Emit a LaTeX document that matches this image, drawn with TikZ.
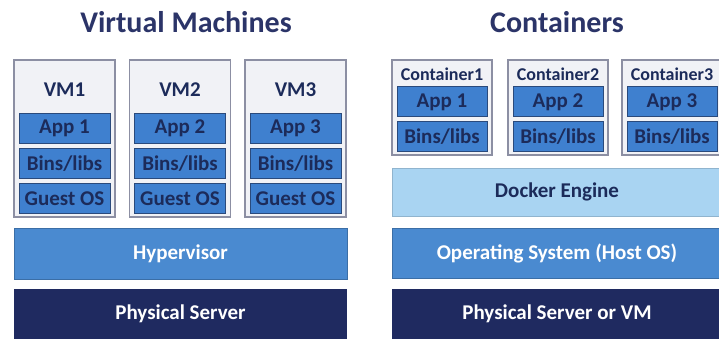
\documentclass[tikz,border=0pt]{standalone}
\usepackage{fontspec}
\setmainfont{Carlito}
\usepackage{tikz}
\definecolor{navytext}{HTML}{1C2B5A}
\definecolor{titlecol}{HTML}{2B3468}
\definecolor{boxgray}{HTML}{F1F2F6}
\definecolor{boxline}{HTML}{8C8FA3}
\definecolor{appblue}{HTML}{3F80CF}
\definecolor{appline}{HTML}{2A4A7C}
\definecolor{hyperblue}{HTML}{4A8AD0}
\definecolor{dockerblue}{HTML}{A9D4F2}
\definecolor{serverblue}{HTML}{1F2A60}
\tikzset{
  guest/.style={draw=boxline, fill=boxgray, line width=1.2pt, inner sep=0pt},
  layer/.style={draw=appline, fill=appblue, line width=1pt, minimum width=#1, minimum height=30pt,
    inner sep=0pt, text=navytext, font=\bfseries\fontsize{21}{23}\selectfont},
  bar/.style={fill=#1, minimum width=333pt, minimum height=50pt, inner sep=0pt,
    font=\bfseries\fontsize{21}{23}\selectfont},
  heading/.style={text=titlecol, font=\bfseries\fontsize{30}{34}\selectfont}
}

\begin{document}
\begin{tikzpicture}[x=1pt,y=-1pt]
  \useasboundingbox[fill=white] (0,0) rectangle (719,339);
  % titles
  \node [heading] (vmtitle) at (186,22) {Virtual Machines};
  \node [heading] (cttitle) at (557,22) {Containers};
  % virtual machines
  \foreach \i/\x in {1/64.5, 2/180, 3/295.5} {
    \node [guest, minimum width=101pt, minimum height=157pt] (vm\i) at (\x,138.5) {};
    \node [text=navytext, font=\bfseries\fontsize{21}{23}\selectfont] (vmname\i) at (\x,90) {VM\i};
    \node [layer=91pt] (vmapp\i) at (\x,128.5) {App \i};
    \node [layer=91pt] (vmbins\i) at (\x,163.5) {Bins/libs};
    \node [layer=91pt] (vmos\i) at (\x,198.5) {Guest OS};
  }
  \node [bar=hyperblue, draw=hyperblue!80!black, line width=0.6pt, text=white, minimum height=51pt] (hyper) at (180.5,253.5) {Hypervisor};
  \node [bar=serverblue, text=white] (server) at (180.5,314) {Physical Server};
  % containers
  \foreach \i/\x in {1/442, 2/558, 3/672} {
    \node [guest, minimum width=100pt, minimum height=95pt] (ct\i) at (\x,107.5) {};
    \node [text=navytext, font=\bfseries\fontsize{18}{20}\selectfont] (ctname\i) at (\x,74) {Container\i};
    \node [layer=90pt] (ctapp\i) at (\x,102) {App \i};
    \node [layer=90pt] (ctbins\i) at (\x,136.5) {Bins/libs};
  }
  \node [bar=dockerblue, draw=dockerblue!85!black, line width=0.6pt, text=navytext, minimum width=330pt, minimum height=48pt] (docker) at (557,192) {Docker Engine};
  \node [bar=hyperblue, draw=hyperblue!80!black, line width=0.6pt, text=white, minimum width=330pt] (hostos) at (557,253) {Operating System (Host OS)};
  \node [bar=serverblue, text=white, minimum width=330pt] (server2) at (557,314) {Physical Server or VM};
\end{tikzpicture}
\end{document}
